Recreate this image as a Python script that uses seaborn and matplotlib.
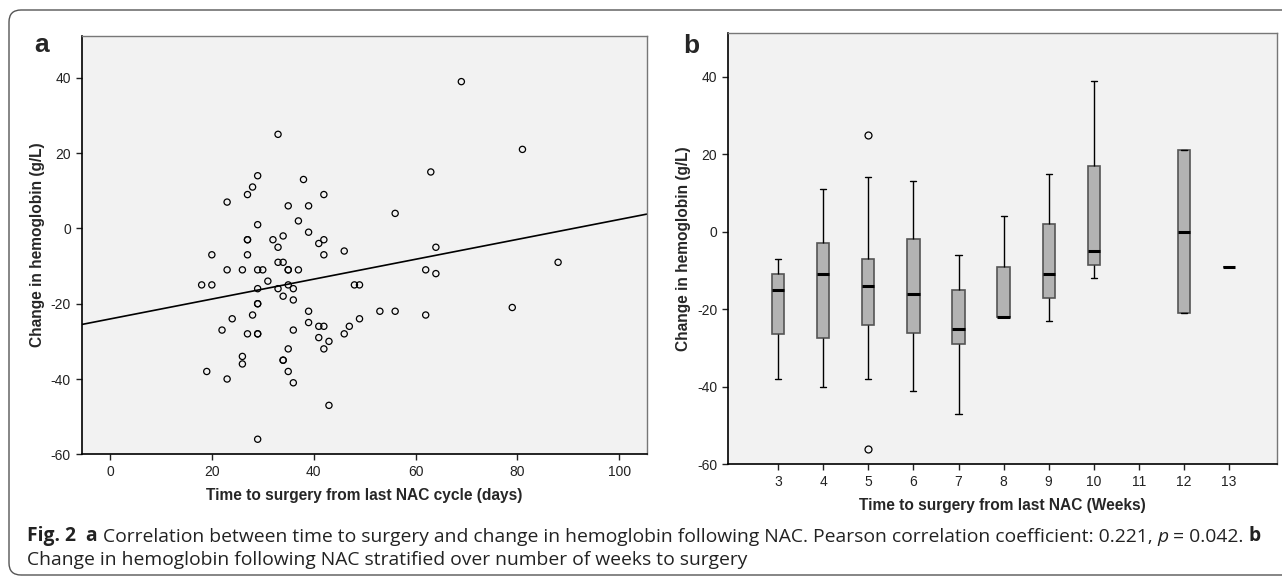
# %%
import numpy as np
import pandas as pd
import seaborn as sns
import matplotlib as mpl
import matplotlib.pyplot as plt
from matplotlib.patches import FancyBboxPatch

# time to surgery from last NAC cycle (days) and change in hemoglobin (g/L)
days = [18, 19, 20, 20,
        22, 23, 23, 23, 24, 26, 26, 26, 27, 27, 27, 27, 27, 28, 28,
        29, 29, 29, 29, 29, 29, 29, 29, 29, 30, 31, 32, 33, 33, 33, 33,
        34, 34, 34, 34, 34, 35, 35, 35, 35, 35, 35,
        36, 36, 36, 36, 37, 37, 38, 39, 39, 39, 39, 41, 41, 41, 42, 42, 42, 42, 42,
        43, 43, 46, 46, 47, 48, 49, 49,
        53, 56, 56, 62, 62, 63, 64, 64, 69, 79, 81, 88]
change = [-15, -38, -7, -15,
          -27, 7, -11, -40, -24, -11, -34, -36, 9, -3, -3, -7, -28, 11, -23,
          14, 1, -11, -16, -20, -20, -28, -28, -56, -11, -14, -3, 25, -5, -9, -16,
          -2, -9, -18, -35, -35, 6, -11, -11, -15, -32, -38,
          -16, -19, -27, -41, 2, -11, 13, 6, -1, -22, -25, -4, -26, -29, 9, -3, -7, -26, -32,
          -30, -47, -6, -28, -26, -15, -15, -24,
          -22, 4, -22, -11, -23, 15, -5, -12, 39, -21, 21, -9]

week_order = [3, 4, 5, 6, 7, 8, 9, 10, 11, 12, 13]
day_ticks = [0, 20, 40, 60, 80, 100]
change_ticks = [-60, -40, -20, 0, 20, 40]

df = pd.DataFrame({"days": days, "change": change})
df["weeks"] = np.ceil(df["days"] / 7).astype(int)


# %%
# SPSS draws boxes with Tukey hinges, not linear percentiles
_mpl_stats = mpl.cbook.boxplot_stats


def tukey_stats(X, whis=1.5, **kws):
    stats = _mpl_stats(X, whis=whis, **kws)
    for st, x in zip(stats, X):
        x = np.sort(np.asarray(x, dtype=float))
        n = len(x)
        q1 = np.median(x[:(n + 1) // 2])
        q3 = np.median(x[n // 2:])
        iqr = q3 - q1
        lo, hi = q1 - whis * iqr, q3 + whis * iqr
        inside = x[(x >= lo) & (x <= hi)]
        st.update(q1=q1, q3=q3, iqr=iqr, whislo=inside.min(), whishi=inside.max(),
                  fliers=x[(x < lo) | (x > hi)])
    return stats


mpl.cbook.boxplot_stats = tukey_stats

# %%
sns.set_style("ticks", {"axes.facecolor": "#f2f2f2"})
plt.rcParams["font.family"] = ["Liberation Sans", "DejaVu Sans"]
plt.rcParams["axes.unicode_minus"] = False

fig = plt.figure(figsize=(12.82, 5.82), dpi=100)
ax_a = fig.add_axes([0.06396, 0.21942, 0.44048, 0.71924])
ax_b = fig.add_axes([0.56810, 0.20223, 0.42800, 0.74055])

# panel a: scatter with fit line over the whole axis
ax_a.set_xlim(-5.5, 105.4)
ax_a.set_ylim(-60, 51.2)
sns.regplot(data=df, x="days", y="change", ax=ax_a, ci=None, truncate=False,
            scatter_kws=dict(s=20, facecolors="none", edgecolors="black",
                             linewidths=0.9, alpha=1),
            line_kws=dict(color="black", linewidth=1.2))
ax_a.set_xlim(-5.5, 105.4)
ax_a.set_ylim(-60, 51.2)
ax_a.set_xticks(day_ticks)

# panel b: boxes per week
sns.boxplot(data=df, x="weeks", y="change", order=week_order, ax=ax_b,
            width=0.27, color="#b3b3b3", linecolor="#555555", linewidth=1.2,
            medianprops=dict(color="black", linewidth=2.2),
            whiskerprops=dict(color="black", linewidth=1),
            capprops=dict(color="black", linewidth=1),
            flierprops=dict(marker="o", markerfacecolor="none",
                            markeredgecolor="black", markersize=5,
                            markeredgewidth=0.9))
ax_b.set_xlim(-1.11, 11.07)
ax_b.set_ylim(-60, 51.2)
ax_b.set_xticks(range(len(week_order)))
ax_b.set_xticklabels(week_order)

for ax, xlab in [(ax_a, "Time to surgery from last NAC cycle (days)"),
                 (ax_b, "Time to surgery from last NAC (Weeks)")]:
    ax.set_yticks(change_ticks)
    ax.tick_params(direction="out", length=4, width=1, labelsize=10,
                   colors="#222222", pad=4)
    ax.set_xlabel(xlab, fontsize=11.2, fontweight="bold", labelpad=6)
    ax.set_ylabel("Change in hemoglobin (g/L)", fontsize=11.2, fontweight="bold",
                  labelpad=4)
    for side in ["left", "bottom"]:
        ax.spines[side].set_color("black")
        ax.spines[side].set_linewidth(1.2)
    for side in ["top", "right"]:
        ax.spines[side].set_visible(True)
        ax.spines[side].set_color("#777777")
        ax.spines[side].set_linewidth(1)

fig.text(34 / 1282, 1 - 52 / 582, "a", fontsize=19, fontweight="bold")
fig.text(683 / 1282, 1 - 53 / 582, "b", fontsize=19, fontweight="bold")

# caption, pieces chained one after the other on the same line
cap_font = dict(fontsize=13.9, family=["Open Sans", "Liberation Sans"], color="#222222")
line1 = [("Fig. 2", "bold", "normal"),
         ("  a", "bold", "normal"),
         (" Correlation between time to surgery and change in hemoglobin following NAC. "
          "Pearson correlation coefficient: 0.221, ", "normal", "normal"),
         ("p", "normal", "italic"),
         (" = 0.042. ", "normal", "normal"),
         ("b", "bold", "normal")]
prev = fig.text(27 / 1282, 1 - 541 / 582, line1[0][0], fontweight=line1[0][1],
                va="baseline", **cap_font)
for txt, weight, style in line1[1:]:
    prev = ax_a.annotate(txt, xy=(1, 0), xycoords=prev, va="bottom", ha="left",
                         fontweight=weight, fontstyle=style, annotation_clip=False,
                         **cap_font)
fig.text(27 / 1282, 1 - 565 / 582,
         "Change in hemoglobin following NAC stratified over number of weeks to surgery",
         va="baseline", **cap_font)

# rounded frame around the figure (right side runs off the page)
fig.patches.append(FancyBboxPatch((9, 7), 1320, 565, boxstyle="round,pad=0,rounding_size=12",
                                  transform=None, fill=False, edgecolor="#555555",
                                  linewidth=1))

plt.savefig("out.png", dpi=100)
